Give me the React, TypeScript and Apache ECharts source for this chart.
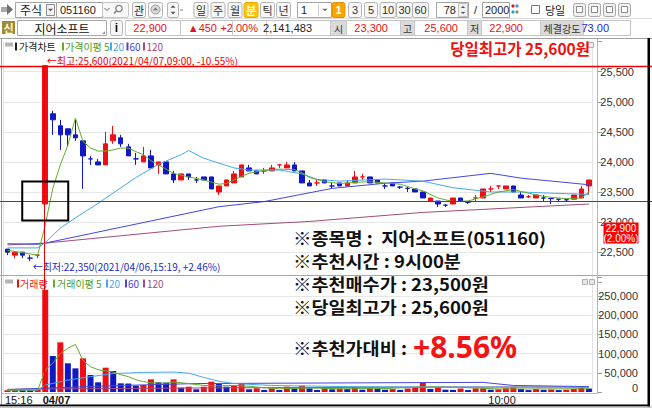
import React, { useEffect, useRef } from 'react';
import * as echarts from 'echarts';

// ---------------- data ----------------
const categories = [
  '15:16', '15:17', '15:18', '15:19', '15:20',
  '09:00', '09:01', '09:02', '09:03', '09:04', '09:05', '09:06', '09:07', '09:08', '09:09',
  '09:10', '09:11', '09:12', '09:13', '09:14', '09:15', '09:16', '09:17', '09:18', '09:19',
  '09:20', '09:21', '09:22', '09:23', '09:24', '09:25', '09:26', '09:27', '09:28', '09:29',
  '09:30', '09:31', '09:32', '09:33', '09:34', '09:35', '09:36', '09:37', '09:38', '09:39',
  '09:40', '09:41', '09:42', '09:43', '09:44', '09:45', '09:46', '09:47', '09:48', '09:49',
  '09:50', '09:51', '09:52', '09:53', '09:54', '09:55', '09:56', '09:57', '09:58',
  '10:00', '10:01', '10:02', '10:03', '10:04', '10:05', '10:06', '10:07', '10:08', '10:09',
  '10:10', '10:11', '10:12', '10:13',
];
const xTickIndex = [0, 5, 64];
const xTickText = ['15:16', '04/07', '10:00'];

// [open, close, low, high]
const ohlc = [
  [22550, 22500, 22450, 22550], [22450, 22500, 22400, 22500], [22500, 22450, 22400, 22500],
  [22400, 22400, 22350, 22450], [22450, 22450, 22400, 22450], [23300, 25600, 23300, 25600],
  [24800, 24700, 24450, 24850], [24600, 24450, 24200, 24700], [24550, 24450, 24250, 24550],
  [24450, 24400, 24350, 24700], [24350, 24100, 23550, 24350], [24050, 24050, 23950, 24100],
  [24000, 23950, 23950, 24050], [23950, 24300, 23950, 24500], [24350, 24450, 24300, 24600],
  [24400, 24300, 24250, 24450], [24250, 24100, 24100, 24300], [24050, 24050, 23950, 24150],
  [24000, 24100, 24000, 24250], [24100, 23900, 23900, 24200], [23950, 24000, 23800, 24000],
  [24000, 23800, 23800, 24000], [23800, 23700, 23650, 23850], [23700, 23800, 23700, 23800],
  [23800, 23750, 23700, 23800], [23700, 23700, 23650, 23750], [23750, 23700, 23700, 23750],
  [23750, 23550, 23550, 23750], [23500, 23600, 23450, 23600], [23600, 23700, 23600, 23700],
  [23650, 23800, 23650, 23850], [23750, 23950, 23750, 23950], [23900, 23850, 23850, 23950],
  [23850, 23800, 23800, 23850], [23850, 23850, 23800, 23900], [23850, 23900, 23850, 23950],
  [23950, 23950, 23900, 23950], [23900, 23950, 23900, 24000], [23950, 23850, 23850, 24000],
  [23850, 23650, 23650, 23850], [23650, 23600, 23600, 23700], [23650, 23650, 23600, 23700],
  [23700, 23650, 23650, 23700], [23600, 23600, 23550, 23650], [23650, 23600, 23600, 23650],
  [23600, 23650, 23600, 23700], [23650, 23750, 23650, 23850], [23750, 23750, 23700, 23800],
  [23750, 23650, 23650, 23750], [23700, 23650, 23650, 23700], [23600, 23600, 23550, 23650],
  [23650, 23600, 23600, 23650], [23580, 23580, 23550, 23600], [23560, 23560, 23500, 23600],
  [23550, 23500, 23500, 23550], [23500, 23400, 23400, 23500], [23350, 23400, 23350, 23400],
  [23350, 23300, 23250, 23350], [23280, 23280, 23250, 23300], [23300, 23400, 23300, 23400],
  [23400, 23350, 23350, 23400], [23330, 23330, 23300, 23350], [23400, 23400, 23350, 23450],
  [23400, 23550, 23400, 23550], [23550, 23550, 23500, 23600], [23600, 23600, 23550, 23600],
  [23550, 23600, 23550, 23600], [23600, 23500, 23500, 23600], [23450, 23400, 23400, 23500],
  [23420, 23420, 23400, 23450], [23400, 23450, 23400, 23450], [23400, 23400, 23350, 23450],
  [23390, 23390, 23300, 23400], [23380, 23380, 23350, 23380], [23370, 23370, 23350, 23370],
  [23380, 23450, 23380, 23450], [23400, 23550, 23400, 23600], [23600, 23700, 23450, 23700],
];

const volumes = [
  4500, 5200, 4800, 4600, 6500, 266000, 93700, 129400, 74700, 61600,
  87700, 44300, 25200, 63300, 54700, 22600, 22000, 16500, 18200, 33000,
  25200, 24500, 33000, 11300, 13900, 7000, 13900, 26800, 20800, 13900,
  15600, 22600, 7000, 9600, 5200, 9600, 5200, 13900, 9600, 16500,
  9600, 5200, 9600, 7000, 9000, 7500, 12000, 6000, 11000, 8000,
  6000, 7500, 5500, 9000, 12000, 25000, 8000, 12000, 6000, 5500,
  9000, 5000, 9500, 10000, 6000, 7000, 10000, 12000, 8000, 5000,
  8000, 5500, 6500, 5000, 6000, 8000, 14000, 9000,
];

// moving averages: [category index, value]
const priceMA5 = [
  [0, 22530], [2, 22490], [4, 22450], [5, 22950], [6, 23560], [7, 23950], [8, 24280], [9, 24730],
  [10, 24340], [11, 24230], [12, 24180], [13, 24180], [14, 24200], [15, 24230], [16, 24230],
  [17, 24170], [18, 24120], [19, 24020], [20, 23950], [21, 23880], [22, 23810], [24, 23750],
  [26, 23700], [28, 23630], [29, 23640], [30, 23700], [31, 23760], [32, 23810], [34, 23860],
  [36, 23880], [38, 23870], [39, 23820], [40, 23740], [42, 23670], [44, 23640], [46, 23660],
  [48, 23670], [50, 23650], [52, 23630], [54, 23550], [55, 23520], [57, 23400], [59, 23340],
  [61, 23350], [63, 23420], [64, 23460], [65, 23500], [67, 23540], [68, 23510], [70, 23450],
  [72, 23410], [74, 23390], [76, 23400], [77, 23500],
];
const priceMA20 = [
  [0, 22570], [4, 22570], [5, 22660], [7, 22900], [9, 23070], [12, 23310], [17, 23740],
  [20, 23960], [23, 24120], [24, 24190], [26, 24060], [28, 23980], [30, 23900], [32, 23865],
  [36, 23865], [39, 23800], [41, 23710], [44, 23680], [50, 23715], [55, 23680], [59, 23570],
  [64, 23500], [68, 23500], [72, 23480], [77, 23460],
];
const priceMA60 = [
  [0, 22640], [4, 22630], [5, 22650], [28, 23255], [34, 23340], [43, 23560], [50, 23645],
  [55, 23680], [64, 23810], [68, 23730], [77, 23620],
];
const priceMA120 = [
  [0, 22620], [5, 22650], [28, 22930], [40, 23010], [55, 23160], [77, 23300],
];
const volMA5 = [
  [0, 5000], [4, 5200], [5, 57000], [6, 75000], [7, 100000], [8, 114000], [9, 124000],
  [10, 82000], [11, 66000], [12, 58000], [13, 55000], [14, 52000], [15, 45000], [16, 40000],
  [17, 32000], [18, 27000], [19, 24000], [21, 23000], [22, 26000], [24, 22000], [26, 17000],
  [28, 16000], [30, 17000], [32, 15000], [34, 11000], [36, 8500], [38, 9000], [40, 10500],
  [44, 8500], [50, 9000], [55, 13000], [60, 12000], [65, 8000], [70, 8000], [77, 8500],
];
const volMA20 = [
  [0, 5000], [4, 5000], [5, 18000], [8, 31000], [11, 40000], [14, 48000], [18, 51000],
  [22, 52000], [24, 49000], [26, 38000], [28, 28000], [30, 22000], [35, 17000], [45, 14000],
  [60, 13000], [77, 12000],
];
const volMA60 = [
  [0, 6000], [5, 10000], [15, 17000], [25, 22000], [55, 24500], [63, 25000], [67, 17000],
  [77, 14000],
];
const volMA120 = [[0, 7000], [5, 8000], [30, 11000], [60, 13000], [77, 13500]];

const highPrice = 25600;
const highText = '←최고:25,600(2021/04/07,09:00, -10.55%)';
const lowPrice = 22350;
const lowIndex = 3;
const lowText = '←최저:22,350(2021/04/06,15:19, +2.46%)';
const recIndex = 5;
const recPrice = 23350;
const currentPrice = 22900;
const currentText = ['22,900', '(2.00%)'];
const headline = '당일최고가 25,600원';
const infoLines = ['※종목명 :  지어소프트(051160)', '※추천시간 : 9시00분', '※추천매수가 : 23,500원', '※당일최고가 : 25,600원'];
const infoLast = '※추천가대비 : ';
const infoGain = '+8.56%';

const stockCode = '051160';
const stockName = '지어소프트';
const quoteValues = ['22,900', '▲450', '+2.00%', '2,141,483'];
const ohlLabels = ['시', '고', '저', '체결강도'];
const ohlValues = ['23,300', '25,600', '22,900', '73.00'];
const periodButtons = ['일', '주', '월', '분', '틱', '년'];
const minuteButtons = ['1', '3', '5', '10', '30', '60'];
const barCount = '78';
const barMax = '2000';
const priceLegend = ['가격차트', '가격이평 5', '20', '60', '120'];
const volLegend = ['거래량', '거래이평 5', '20', '60', '120'];

// ---------------- styles ----------------
const RED = '#ec1016';
const BLUE = '#1018c4';
const C_MA5 = '#64ad2c';
const C_MA20 = '#48a8ec';
const C_MA60 = '#4646dc';
const C_MA120 = '#a04c7c';
const NARROW = '"Liberation Sans Narrow", "Arial Narrow", "Liberation Sans", sans-serif';
const KR = '"Noto Sans CJK KR", "Noto Sans", sans-serif';
const GRID_L = 3.7;
const GRID_W = 589;

const fmt = (v: number) => v.toLocaleString('en-US');

function lineSeries(name: string, data: number[][], color: string, axis: number) {
  return {
    name, type: 'line', xAxisIndex: axis, yAxisIndex: axis, data,
    symbol: 'none', showSymbol: false, silent: true,
    lineStyle: { color, width: 1 }, z: 3,
  };
}

function buildOption() {
  const axisLabelBase = { color: '#333', fontSize: 11, fontFamily: NARROW };
  return {
    animation: false,
    backgroundColor: '#ffffff',
    grid: [
      { left: GRID_L, width: GRID_W, top: 41.6, height: 240.6 },
      { left: GRID_L, width: GRID_W, top: 276.8, height: 115.2 },
    ],
    xAxis: [
      {
        type: 'category', gridIndex: 0, data: categories, boundaryGap: true,
        axisLine: { show: false }, axisTick: { show: false }, axisLabel: { show: false },
        splitLine: { show: true, interval: (i: number) => i === xTickIndex[2], lineStyle: { color: '#e2e2e2' } },
      },
      {
        type: 'category', gridIndex: 1, data: categories, boundaryGap: true,
        axisLine: { show: false }, axisTick: { show: false }, axisLabel: { show: false },
        splitLine: { show: true, interval: (i: number) => i === xTickIndex[2], lineStyle: { color: '#e2e2e2' } },
      },
    ],
    yAxis: [
      {
        type: 'value', gridIndex: 0, position: 'right', offset: 5.3,
        min: 22000, max: 26000, interval: 500,
        axisLine: { show: false },
        axisTick: { show: true, length: 4, lineStyle: { color: '#9a9a9a' } },
        axisLabel: {
          ...axisLabelBase, margin: 36, align: 'right',
          formatter: (v: number) => (v <= 22000 || v >= 26000 ? '' : fmt(v)),
        },
        splitLine: { show: true, showMinLine: false, showMaxLine: false, lineStyle: { color: '#e6e6e6' } },
      },
      {
        type: 'value', gridIndex: 1, position: 'right', offset: 5.3,
        min: 0, max: 300000, interval: 50000,
        axisLine: { show: false },
        axisTick: { show: true, length: 4, lineStyle: { color: '#9a9a9a' } },
        axisLabel: {
          ...axisLabelBase, margin: 40, align: 'right',
          formatter: (v: number) => (v >= 300000 ? '' : v === 0 ? '{z|0}' : fmt(v)),
          rich: { z: { fontSize: 11, fontFamily: NARROW, color: '#333', padding: [0, 0, 9, 0] } },
        },
        splitLine: { show: true, showMinLine: false, showMaxLine: false, lineStyle: { color: '#e6e6e6' } },
      },
    ],
    series: [
      {
        name: '가격', type: 'candlestick', xAxisIndex: 0, yAxisIndex: 0, data: ohlc,
        barWidth: 5, silent: true,
        itemStyle: { color: RED, color0: BLUE, borderColor: RED, borderColor0: BLUE, borderWidth: 1 },
      },
      lineSeries('MA120', priceMA120, C_MA120, 0),
      lineSeries('MA60', priceMA60, C_MA60, 0),
      lineSeries('MA20', priceMA20, C_MA20, 0),
      lineSeries('MA5', priceMA5, C_MA5, 0),
      {
        name: '거래량', type: 'bar', xAxisIndex: 1, yAxisIndex: 1, data: volumes,
        barWidth: 6, silent: true,
        itemStyle: {
          color: (p: any) => (p.dataIndex === 0 || volumes[p.dataIndex] > volumes[p.dataIndex - 1] ? RED : BLUE),
        },
      },
      lineSeries('VMA120', volMA120, C_MA120, 1),
      lineSeries('VMA60', volMA60, C_MA60, 1),
      lineSeries('VMA20', volMA20, C_MA20, 1),
      lineSeries('VMA5', volMA5, C_MA5, 1),
    ],
  };
}

// ---------------- graphic helpers ----------------
function rect(x: number, y: number, w: number, h: number, style: any, r = 0, z = 100) {
  return { type: 'rect', shape: { x, y, width: w, height: h, r }, style, z, silent: true };
}
function line(x1: number, y1: number, x2: number, y2: number, stroke: string, lineWidth = 1, z = 100) {
  return { type: 'line', shape: { x1, y1, x2, y2 }, style: { stroke, lineWidth }, z, silent: true };
}
function txt(x: number, y: number, text: string, o: any = {}) {
  const align = o.align || 'left';
  const el: any = {
    type: 'text', x, y, z: o.z || 102, silent: true,
    style: {
      text, fill: o.fill || '#222',
      fontSize: o.size || 11, fontFamily: o.family || KR, fontWeight: o.weight || 'normal',
      align, textAlign: align, verticalAlign: 'middle', textVerticalAlign: 'middle',
    },
  };
  if (o.scaleX) el.scaleX = o.scaleX;
  return el;
}
function tri(cx: number, cy: number, s: number, down: boolean, fill: string) {
  const pts = down
    ? [[cx - s, cy - s / 2], [cx + s, cy - s / 2], [cx, cy + s / 2]]
    : [[cx - s, cy + s / 2], [cx + s, cy + s / 2], [cx, cy - s / 2]];
  return { type: 'polygon', shape: { points: pts }, style: { fill }, z: 101, silent: true };
}
const BTN = { fill: '#f7f7f7', stroke: '#b4b4b4', lineWidth: 1 };

function buildGraphics(px: (a: any, v: any) => number) {
  const g: any[] = [];
  // ---------- toolbar row 1 ----------
  const r1 = 9.5;
  g.push(rect(1, 7, 6, 5, { fill: '#a8a8a8' }));
  g.push({ type: 'polygon', shape: { points: [[7, 4], [13, 9.5], [7, 15]] }, style: { fill: '#707070' }, z: 101 });
  g.push(rect(15.5, 2.5, 41, 15, { fill: '#fff', stroke: '#a4a4a4' }));
  g.push(txt(20, r1, '주식', { size: 12 }));
  g.push(rect(46.5, 4.5, 8, 11, { fill: '#f2f2f2', stroke: '#8c8c8c' }));
  g.push(tri(50.5, 10, 2.5, true, '#555'));
  g.push(rect(56.5, 2.5, 46, 15, { fill: '#fff', stroke: '#a4a4a4' }));
  g.push(txt(60, r1, stockCode, { size: 11, family: NARROW }));
  g.push(rect(102.5, 2.5, 26, 15, { fill: '#f7f7f7', stroke: '#c4c4c4' }, 2));
  g.push({ type: 'polyline', shape: { points: [[104.5, 8], [107, 10.5], [109.5, 8]] }, style: { stroke: '#666', fill: null, lineWidth: 1 }, z: 101 });
  g.push({ type: 'circle', shape: { cx: 119, cy: 8.5, r: 3.2 }, style: { stroke: '#777', fill: null, lineWidth: 1.2 }, z: 101 });
  g.push(line(116.5, 11, 114, 13.5, '#777', 1.4));
  g.push(rect(132.5, 2.5, 13, 15, BTN, 2));
  g.push(txt(139, r1, '관', { size: 11, align: 'center' }));
  g.push(rect(148.5, 2.5, 14, 15, BTN, 2));
  g.push({ type: 'circle', shape: { cx: 155.5, cy: 9.5, r: 4.5 }, style: { fill: '#d8d8d8', stroke: '#999' }, z: 101 });
  g.push(tri(155.5, 9, 2.5, false, '#777'));
  g.push(rect(167.5, 2.5, 11, 15, BTN, 2));
  g.push(tri(173, 6.5, 2.5, false, '#555'));
  g.push(tri(173, 13, 2.5, true, '#555'));
  g.push(line(180, 10, 183, 10, '#888'));
  const pc = [201, 218, 235, 251, 267.5, 283.5];
  periodButtons.forEach((b, i) => {
    const active = i === 3;
    g.push(rect(pc[i] - 7, 2.5, 14, 15, active ? { fill: '#ffc20e', stroke: '#f0a800' } : BTN, 2));
    g.push(txt(pc[i], r1, b, { size: 11, align: 'center', fill: active ? '#fff' : '#333', weight: active ? 'bold' : 'normal' }));
  });
  g.push(rect(297.5, 2.5, 34, 15, { fill: '#fff', stroke: '#a4a4a4' }));
  g.push(txt(301, r1, '1', { size: 11, family: NARROW }));
  g.push(line(318.5, 4, 318.5, 16, '#d0d0d0'));
  g.push(tri(325, 10, 2.5, true, '#666'));
  const mc = [338.5, 355, 371, 388, 404.5, 420.5];
  minuteButtons.forEach((b, i) => {
    const active = i === 0;
    const w = b.length > 1 ? 16 : 13;
    g.push(rect(mc[i] - w / 2, 2.5, w, 15, active ? { fill: '#f7a600', stroke: '#e09000' } : BTN, 2));
    g.push(txt(mc[i], r1, b, { size: 11, family: NARROW, align: 'center', fill: active ? '#fff' : '#333', weight: active ? 'bold' : 'normal' }));
  });
  g.push(rect(436.5, 2.5, 32, 15, { fill: '#fff', stroke: '#a4a4a4' }));
  g.push(txt(456, r1, barCount, { size: 11, family: NARROW, align: 'right' }));
  g.push(rect(458.5, 3.5, 9, 13, { fill: '#f0f0f0', stroke: '#c0c0c0' }));
  g.push(tri(463, 7, 2.2, false, '#555'));
  g.push(tri(463, 13, 2.2, true, '#555'));
  g.push(txt(475.5, r1, '/', { size: 11, family: NARROW, align: 'center' }));
  g.push(rect(482.5, 2.5, 27, 15, { fill: '#fff', stroke: '#a4a4a4' }));
  g.push(txt(485, r1, barMax, { size: 11, family: NARROW }));
  [[513, 6, RED], [517, 6, '#2a9ad8'], [513, 12, '#2a9ad8'], [517, 12, '#888']].forEach((d: any) => {
    g.push({ type: 'circle', shape: { cx: d[0], cy: d[1], r: 1.6 }, style: { fill: d[2] }, z: 101 });
  });
  g.push(rect(531.5, 5.5, 8, 8, { fill: '#fff', stroke: '#777' }));
  g.push(txt(545, r1, '당일', { size: 11 }));
  [573, 588, 603, 618].forEach((x) => {
    g.push(rect(x + 0.5, 3.5, 12, 13, { fill: '#f0f0f0', stroke: '#a8a8a8' }, 2));
    g.push(rect(x + 3.5, 6.5, 6, 6, { fill: '#fff', stroke: '#8a8a8a' }));
  });
  g.push(line(0, 18.5, 652, 18.5, '#dcdcdc'));

  // ---------- toolbar row 2 ----------
  const r2 = 28;
  g.push(rect(2, 21, 13, 13, { fill: '#9c8a3c' }));
  g.push(txt(8.5, 27.5, '신', { size: 11, fill: '#fff6cc', align: 'center', weight: 'bold' }));
  g.push(rect(17.5, 20.5, 89, 15, { fill: '#fff', stroke: '#a8a8a8' }));
  g.push(txt(62, r2, stockName, { size: 12, align: 'center', fill: '#111' }));
  g.push({ type: 'polygon', shape: { points: [[105, 31], [105, 34], [102, 34]] }, style: { fill: '#999' }, z: 101 });
  g.push(rect(110.5, 20.5, 12, 15, BTN, 2));
  g.push(txt(116.5, r2, 'i', { size: 12, align: 'center', weight: 'bold', family: 'Liberation Sans', fill: '#111' }));
  g.push(rect(125.5, 20.5, 505, 15, { fill: '#fff', stroke: '#c4c4c4' }));
  [180, 232, 266, 330, 346, 400, 414, 467, 481, 540, 583].forEach((x) => g.push(line(x + 0.5, 20.5, x + 0.5, 35.5, '#c8c8c8')));
  [[330, 346], [400, 414], [467, 481], [540, 583]].forEach((c, i) => {
    g.push(rect(c[0] + 1, 21, c[1] - c[0] - 1, 14, { fill: '#dadada' }, 0, 101));
    g.push(txt((c[0] + c[1]) / 2 + 0.5, r2, ohlLabels[i], { size: 10, align: 'center', fill: '#333', z: 103 }));
  });
  const qEnds = [167, 217, 258, 312];
  quoteValues.forEach((v, i) => g.push(txt(qEnds[i], r2, v, { size: 11, family: NARROW, align: 'right', fill: i === 3 ? '#222' : RED })));
  const oEnds = [388, 458, 523, 609];
  ohlValues.forEach((v, i) => g.push(txt(oEnds[i], r2, v, { size: 11, family: NARROW, align: 'right', fill: i === 3 ? '#2626d0' : RED })));

  // ---------- frame ----------
  g.push(line(0, 38.5, 652, 38.5, '#a0a0a0'));
  g.push(line(1.5, 38, 1.5, 405, '#a0a0a0'));
  g.push(line(0, 275.5, 648, 275.5, '#a8a8a8', 1, 90));
  g.push(line(597.5, 38, 597.5, 393, '#b4b4b4', 1, 90));
  g.push(line(1, 393.5, 598, 393.5, '#b8b8b8', 1, 90));
  g.push(rect(647.5, 38, 2.5, 369, { fill: '#000' }, 0, 130));
  g.push(rect(0, 404.5, 650, 2, { fill: '#000' }, 0, 130));
  g.push(rect(0, 406.5, 652, 1.5, { fill: '#c8c8c8' }, 0, 130));

  // ---------- legends ----------
  const legendRow = (y: number, items: string[], first: string, xs: number[][]) => {
    const cols = [first, C_MA5, C_MA20, C_MA60, C_MA120];
    g.push(rect(5, y - 4, 8, 4, { fill: '#b4b4b4' }));
    items.forEach((t, i) => {
      g.push(rect(xs[i][0], y - 4, 2, 8, { fill: cols[i] }));
      g.push(txt(xs[i][1], y, t, { size: 10, fill: cols[i] === C_MA5 ? '#4c9c1c' : cols[i] }));
    });
  };
  legendRow(46.5, priceLegend, '#222', [[15, 19], [62, 65], [110, 113], [126.5, 129.5], [143, 146.5]]);
  legendRow(283.5, volLegend, RED, [[17, 20], [53, 57], [106, 109], [125, 128], [143, 147]]);
  g.push(rect(588.5, 42.5, 5, 5, { fill: '#eee', stroke: '#b0b0b0' }));
  g.push(rect(582.5, 279.5, 5, 5, { fill: '#e6e6e6', stroke: '#b0b0b0' }));
  g.push(rect(589.5, 279.5, 5, 5, { fill: '#e6e6e6', stroke: '#b0b0b0' }));

  // ---------- x-axis labels anchored to category bands ----------
  const band = px({ xAxisIndex: 1 }, 1) - px({ xAxisIndex: 1 }, 0);
  xTickIndex.forEach((idx, k) => {
    const left = px({ xAxisIndex: 1 }, idx) - band / 2 + 1.3;
    g.push(txt(left, 399.5, xTickText[k], { size: 11, family: NARROW, fill: '#111', weight: k === 1 ? 'bold' : 'normal' }));
  });

  // ---------- data-anchored marks ----------
  const xRec = px({ xAxisIndex: 0 }, recIndex);
  const yHigh = px({ yAxisIndex: 0 }, highPrice);
  const yRec = px({ yAxisIndex: 0 }, recPrice);
  const yLow = px({ yAxisIndex: 0 }, lowPrice);
  const xLow = px({ xAxisIndex: 0 }, lowIndex);
  const yCur = px({ yAxisIndex: 0 }, currentPrice);
  const yVol0 = px({ yAxisIndex: 1 }, 0);

  g.push(line(0, Math.round(yHigh) + 0.5, 652, Math.round(yHigh) + 0.5, '#f00000', 1.6, 110));
  g.push(line(0, Math.round(yRec) + 0.5, 652, Math.round(yRec) + 0.5, '#f00000', 1, 110));
  g.push(line(Math.round(xRec) - 0.5, yHigh, Math.round(xRec) - 0.5, yVol0, '#f00000', 1, 110));
  g.push(rect(xRec - 23, yRec - 19.5, 46, 39, { fill: null, stroke: '#000', lineWidth: 2 }, 0, 112));
  g.push(txt(xRec + 1.5, yHigh - 5.5, highText, { size: 10, fill: '#f00000' }));
  g.push(txt(xLow + 2.5, yLow + 5.5, lowText, { size: 10, fill: '#1c2cc8' }));

  g.push(rect(603.5, yCur - 5.5, 35, 21, { fill: '#ff0000' }, 0, 120));
  g.push(txt(621, yCur + 0.5, currentText[0], { size: 10, family: NARROW, align: 'center', fill: '#fff', z: 121 }));
  g.push(txt(621, yCur + 10.5, currentText[1], { size: 10, family: NARROW, align: 'center', fill: '#fff', z: 121 }));

  // ---------- annotations ----------
  g.push(txt(590, 48, headline, { size: 15.5, weight: 'bold', fill: '#f01010', align: 'right' }));
  const ys = [237, 260, 283, 306];
  infoLines.forEach((t, i) => g.push(txt(293, ys[i], t, { size: 17, weight: 'bold', fill: '#111', scaleX: 1.09 })));
  g.push(txt(293, 347, infoLast, { size: 17, weight: 'bold', fill: '#111', scaleX: 1.09 }));
  g.push(txt(413, 346, infoGain, { size: 30, weight: 'bold', fill: '#f41414', family: '"Noto Sans", "Noto Sans CJK KR", sans-serif' }));
  return g;
}

export default function App() {
  const ref = useRef<HTMLDivElement>(null);
  useEffect(() => {
    if (!ref.current) return;
    const chart = echarts.init(ref.current, null, { renderer: 'svg' });
    chart.setOption(buildOption() as any);
    const px = (a: any, v: any) => chart.convertToPixel(a, v) as unknown as number;
    chart.setOption({ graphic: { elements: buildGraphics(px) } } as any);
    return () => chart.dispose();
  }, []);
  return (
    <div
      ref={ref}
      style={{ position: 'fixed', left: 0, top: 0, width: 652, height: 408, background: '#fff' }}
    />
  );
}
